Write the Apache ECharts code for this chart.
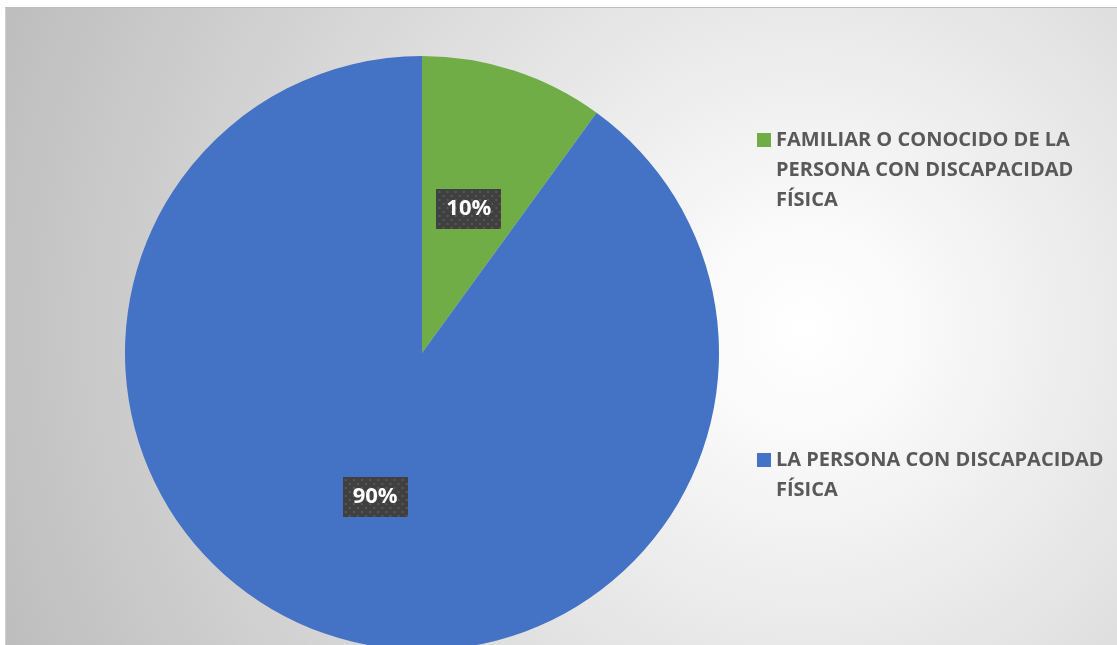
<!DOCTYPE html>
<html>
<head>
<meta charset="utf-8">
<script src="https://cdn.jsdelivr.net/npm/echarts@6/dist/echarts.min.js"></script>
<style>
  html, body { margin: 0; padding: 0; width: 1117px; height: 645px; overflow: hidden; background: #ffffff; }
  #chart { position: absolute; left: 5px; top: 7px; width: 1111px; height: 640px; border-top: 1px solid #bdbdbd; border-left: 1px solid #d0d0d0; border-right: 1px solid #bdbdbd; }
</style>
</head>
<body>
<div id="chart"></div>
<script>
const categories = ['FAMILIAR O CONOCIDO DE LA PERSONA CON DISCAPACIDAD FÍSICA', 'LA PERSONA CON DISCAPACIDAD FÍSICA'];
const legendLines = [['FAMILIAR O CONOCIDO DE LA', 'PERSONA CON DISCAPACIDAD', 'FÍSICA'], ['LA PERSONA CON DISCAPACIDAD', 'FÍSICA']];
const values = [10, 90];
const colors = ['#70ad47', '#4472c4'];

// dotted dark pattern for data labels
const pat = document.createElement('canvas');
pat.width = 64; pat.height = 40;
const ctx = pat.getContext('2d');
ctx.fillStyle = '#404040';
ctx.fillRect(0, 0, 64, 40);
ctx.fillStyle = '#575757';
for (let y = 2; y < 40; y += 8) {
  for (let x = 2; x < 64; x += 8) {
    ctx.fillRect(x, y, 2, 2);
    ctx.fillRect(x + 4, y + 4, 2, 2);
  }
}

// icon aligned with first line: prepend (n-1) empty lines
const legendLabel = (i) => {
  const lines = legendLines[i];
  return '\n'.repeat(lines.length - 1) + lines.join('\n');
};

const chart = echarts.init(document.getElementById('chart'), null, { renderer: 'canvas' });
const legendText = {
  color: '#595959', fontFamily: 'Open Sans', fontWeight: 'bold', fontSize: 20, lineHeight: 30
};
chart.setOption({
  backgroundColor: new echarts.graphic.RadialGradient(0.72, 0.5, 1.35, [
    { offset: 0, color: '#ffffff' },
    { offset: 0.12, color: '#fafafa' },
    { offset: 1, color: '#bdbdbd' }
  ]),
  animation: false,
  legend: [
    {
      data: [categories[0]], orient: 'vertical', left: 751, top: 57, padding: 0,
      itemWidth: 14, itemHeight: 14, itemGap: 0, icon: 'rect',
      formatter: () => legendLabel(0),
      textStyle: legendText
    },
    {
      data: [categories[1]], orient: 'vertical', left: 751, top: 407, padding: 0,
      itemWidth: 14, itemHeight: 14, itemGap: 0, icon: 'rect',
      formatter: () => legendLabel(1),
      textStyle: legendText
    }
  ],
  series: [{
    type: 'pie',
    center: [416, 345],
    radius: [0, 297],
    startAngle: 90,
    clockwise: true,
    color: colors,
    itemStyle: { borderWidth: 0 },
    label: {
      position: 'inside',
      formatter: '{d}%',
      color: '#ffffff',
      fontFamily: 'Open Sans',
      fontWeight: 'bold',
      fontSize: 22,
      lineHeight: 24,
      padding: [8, 10],
      backgroundColor: { image: pat },
      shadowColor: 'rgba(0,0,0,0.45)',
      shadowBlur: 8,
      shadowOffsetX: 3,
      shadowOffsetY: 3
    },
    labelLine: { show: false },
    emphasis: { disabled: true },
    data: categories.map((c, i) => ({ name: c, value: values[i] }))
  }]
});
</script>
</body>
</html>
